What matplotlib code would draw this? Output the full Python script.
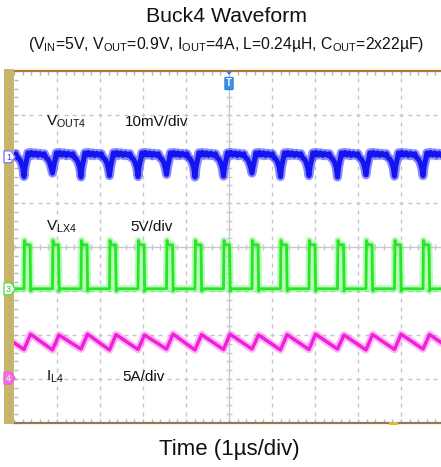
import matplotlib.pyplot as plt
import numpy as np
from matplotlib.patches import Rectangle, Polygon, FancyBboxPatch
from matplotlib.ticker import MultipleLocator

plt.rcParams['font.family'] = ['Liberation Sans', 'DejaVu Sans']
plt.rcParams['mathtext.fontset'] = 'custom'
plt.rcParams['mathtext.rm'] = 'Liberation Sans'
plt.rcParams['mathtext.it'] = 'Liberation Sans:italic'

# time axis in us (1 us/div), vertical axis in divisions
RISE_US = [-4.767, -4.105, -3.442, -2.779, -2.116, -1.453, -0.791, -0.128,
           0.535, 1.198, 1.860, 2.523, 3.186, 3.849, 4.512]
FALL_US = [-4.617, -3.955, -3.292, -2.629, -1.966, -1.303, -0.641, 0.022,
           0.685, 1.348, 2.010, 2.673, 3.336, 3.999, 4.662]
VLX_HIGH = 0.05
VLX_LOW = -0.95

# inductor current corners
IL_PEAK_US = [-5.280, -4.616, -3.954, -3.291, -2.628, -1.965, -1.302, -0.640,
              0.023, 0.686, 1.349, 2.011, 2.674, 3.337, 4.000, 4.663]
IL_PEAK = [-1.99, -1.98, -2.00, -1.98, -1.99, -2.00, -1.98, -1.99,
           -1.98, -2.00, -1.99, -1.98, -2.00, -1.99, -1.98, -1.99]
IL_VALLEY_US = [-4.767, -4.105, -3.442, -2.779, -2.116, -1.453, -0.791, -0.128,
                0.535, 1.198, 1.860, 2.523, 3.186, 3.849, 4.512, 5.175]
IL_VALLEY = [-2.33, -2.34, -2.32, -2.34, -2.33, -2.32, -2.34, -2.33,
             -2.32, -2.34, -2.33, -2.32, -2.34, -2.33, -2.32, -2.33]

# output ripple: dip times and depth, plus plateau shape around each dip
VOUT_DIP_US = [-5.430, -4.767, -4.105, -3.442, -2.779, -2.116, -1.453, -0.791,
               -0.128, 0.535, 1.198, 1.860, 2.523, 3.186, 3.849, 4.512, 5.175]
VOUT_DIP = [1.64, 1.60, 1.68, 1.59, 1.62, 1.60, 1.65, 1.59,
            1.61, 1.68, 1.60, 1.62, 1.59, 1.64, 1.61, 1.62, 1.64]
VOUT_SHAPE_DT = [-0.233, -0.19, -0.15, -0.11, -0.07, -0.03, 0.025, 0.06, 0.09,
                 0.12, 0.17, 0.22, 0.27, 0.32, 0.37, 0.42]
VOUT_SHAPE_V = [2.08, 2.12, 2.03, 2.00, 1.93, 1.80, 1.82, 1.98, 2.14,
                2.08, 2.15, 2.09, 2.14, 2.08, 2.13, 2.09]

CH_GND = {'1': 2.05, '3': -0.95, '4': -2.98}

fig = plt.figure(figsize=(4.41, 4.67), dpi=100)
W, H = 441, 467
x0, x1, y0, y1 = 14, 441, 71, 423
ax = fig.add_axes([x0 / W, 1 - y1 / H, (x1 - x0) / W, (y1 - y0) / H])
ax.set_xlim(-5, (x1 - 229) / 43.0)
ax.set_ylim(-4, 4)

# graticule: dotted lines with a dot every minor step
grid_c = '#c2c2d0'
minor = np.arange(-4, 4.001, 0.2)
minor_x = np.arange(-5, 5.001, 0.2)
for gx in range(-4, 5):
    if gx == 0:
        continue
    ax.plot(np.full_like(minor, gx), minor, ls='none', marker='|', ms=2.5, mew=1, color=grid_c, zorder=1)
for gy in range(-3, 4):
    if gy == 0:
        continue
    ax.plot(minor_x, np.full_like(minor_x, gy), ls='none', marker='_', ms=2.5, mew=1, color=grid_c, zorder=1)
ax.axvline(0, color='#c8c8d4', lw=1, zorder=1)
ax.axhline(0, color='#c8c8d4', lw=1, zorder=1)
ax.plot(np.zeros_like(minor), minor, ls='none', marker='_', ms=5, mew=1, color='#c8c8d4', zorder=1)
ax.plot(minor_x, np.zeros_like(minor_x), ls='none', marker='|', ms=5, mew=1, color='#c8c8d4', zorder=1)

ax.xaxis.set_major_locator(MultipleLocator(1))
ax.xaxis.set_minor_locator(MultipleLocator(0.2))
ax.yaxis.set_major_locator(MultipleLocator(1))
ax.yaxis.set_minor_locator(MultipleLocator(0.2))
ax.tick_params(which='both', direction='in', length=3, width=1, color='#b4b4c4',
               top=True, bottom=True, left=True, right=False,
               labelbottom=False, labelleft=False)
ax.spines['left'].set_visible(False)
ax.spines['right'].set_visible(False)
ax.spines['top'].set_color('#b07a34')
ax.spines['top'].set_linewidth(1.6)
ax.spines['bottom'].set_color('#8c7c50')
ax.spines['bottom'].set_linewidth(1.6)


def fuzzy(t, v, core, halo, width, core_frac=0.5, halo_alpha=0.45):
    ax.plot(t, v, color=halo, lw=width, alpha=halo_alpha, solid_joinstyle='round', zorder=3)
    ax.plot(t, v, color=core, lw=width * core_frac, solid_joinstyle='round', zorder=5)


# VOUT4 ripple
vt, vv = [], []
for td, dv in zip(VOUT_DIP_US, VOUT_DIP):
    for dt, sv in zip(VOUT_SHAPE_DT, VOUT_SHAPE_V):
        vt.append(td + dt)
        vv.append(sv)
    vt.append(td)
    vv.append(dv)
order = np.argsort(vt)
fuzzy(np.array(vt)[order], np.array(vv)[order], '#1414ee', '#2a2aff', 6.5, 0.55, 0.55)

# VLX4 switch node
gt, gv = [-5.2], [VLX_LOW]
for r, f in zip(RISE_US, FALL_US):
    gt += [r, r + 0.01, r + 0.04, f - 0.01, f + 0.005, f + 0.03]
    gv += [VLX_LOW, VLX_HIGH + 0.1, VLX_HIGH, VLX_HIGH, VLX_LOW - 0.05, VLX_LOW]
gt.append(5.2)
gv.append(VLX_LOW)
fuzzy(gt, gv, '#26e626', '#66f866', 5, 0.4)

# IL4 inductor current
it = IL_PEAK_US + IL_VALLEY_US
iv = IL_PEAK + IL_VALLEY
order = np.argsort(it)
fuzzy(np.array(it)[order], np.array(iv)[order], '#f020da', '#ff66ee', 5.5, 0.45)

# channel labels
lab = dict(fontsize=11, color='#111111', va='center', ha='left')
ax.text(-4.26, 2.85, r'V$_{\rm OUT4}$', **lab)
ax.text(-2.41, 2.85, '10mV/div', **lab)
ax.text(-4.26, 0.46, r'V$_{\rm LX4}$', **lab)
ax.text(-2.30, 0.46, '5V/div', **lab)
ax.text(-4.26, -2.95, r'I$_{\rm L4}$', **lab)
ax.text(-2.49, -2.95, '5A/div', **lab)

# overlay in pixel units for the scope frame decorations
ov = fig.add_axes([0, 0, 1, 1], zorder=5)
ov.set_xlim(0, W)
ov.set_ylim(H, 0)
ov.axis('off')
ov.patch.set_alpha(0)

ov.add_patch(Rectangle((4, 69), 10, 355, color='#c9b46c', lw=0))
ov.add_patch(Rectangle((389, 422), 9, 3, color='#e0b840', lw=0))


def ch_marker(y, num, edge, face, txt):
    pts = [(4, y - 6), (11, y - 6), (15, y), (11, y + 6), (4, y + 6)]
    ov.add_patch(Polygon(pts, closed=True, fc=face, ec=edge, lw=1))
    ov.text(8.5, y + 0.5, num, fontsize=6.5, color=txt, ha='center', va='center')


def div_to_px(d):
    return 247 - d * 44


ch_marker(div_to_px(CH_GND['1']), '1', '#8080ff', 'white', '#4040e0')
ch_marker(div_to_px(CH_GND['3']), '3', '#50e050', 'white', '#30c030')
ch_marker(div_to_px(CH_GND['4']), '4', '#f060e0', '#f070e4', 'white')

# trigger marker
ov.add_patch(Polygon([(226, 71), (232, 71), (229, 75)], closed=True, fc='#2a7fe0', lw=0))
ov.add_patch(FancyBboxPatch((225.5, 78), 7, 11, boxstyle='round,pad=0.6',
                            fc='#3a90f0', ec='#2a7fe0', lw=0.8))
ov.text(229, 83.5, 'T', fontsize=7, color='white', ha='center', va='center', fontweight='bold')

ov.text(226, 17, 'Buck4 Waveform', fontsize=15.3, ha='center', va='center', color='#111111')
ov.text(226, 44, r'(V$_{\rm IN}$=5V, V$_{\rm OUT}$=0.9V, I$_{\rm OUT}$=4A, L=0.24µH, C$_{\rm OUT}$=2x22µF)',
        fontsize=11.3, ha='center', va='center', color='#111111')
ov.text(229, 449, 'Time (1µs/div)', fontsize=16, ha='center', va='center', color='#111111')

fig.savefig('out.png', dpi=100)
